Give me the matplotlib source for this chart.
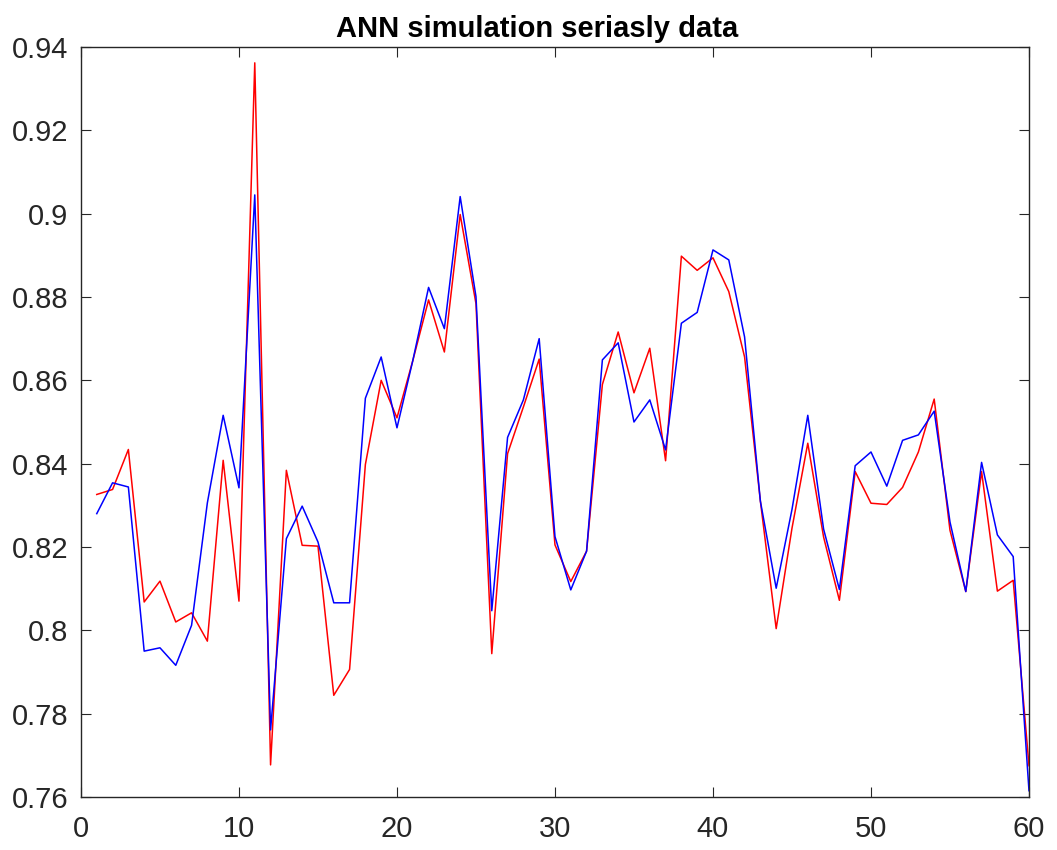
import matplotlib
matplotlib.use('Agg')
import matplotlib.pyplot as plt
from matplotlib.ticker import FuncFormatter
import numpy as np

plt.rcParams['font.family'] = ['Liberation Sans', 'DejaVu Sans']

# sample index 1..60
x = np.arange(1, 61)

# blue series (ANN output)
blue = [0.8280, 0.8354, 0.8344, 0.7950, 0.7958, 0.7916, 0.8012, 0.8306, 0.8516, 0.8342,
        0.9045, 0.7761, 0.8220, 0.8298, 0.8212, 0.8066, 0.8066, 0.8557, 0.8656, 0.8486,
        0.8647, 0.8823, 0.8724, 0.9041, 0.8801, 0.8047, 0.8463, 0.8553, 0.8700, 0.8225,
        0.8097, 0.8190, 0.8649, 0.8690, 0.8500, 0.8553, 0.8433, 0.8737, 0.8763, 0.8913,
        0.8889, 0.8704, 0.8310, 0.8101, 0.8290, 0.8516, 0.8243, 0.8098, 0.8395, 0.8428,
        0.8346, 0.8456, 0.8469, 0.8526, 0.8260, 0.8093, 0.8403, 0.8229, 0.8177, 0.7615]

# red series (target data)
red = [0.8326, 0.8338, 0.8434, 0.8068, 0.8118, 0.8020, 0.8042, 0.7974, 0.8408, 0.8070,
       0.9362, 0.7677, 0.8384, 0.8204, 0.8202, 0.7844, 0.7906, 0.8398, 0.8600, 0.8510,
       0.8647, 0.8793, 0.8668, 0.8998, 0.8784, 0.7944, 0.8424, 0.8536, 0.8651, 0.8205,
       0.8117, 0.8190, 0.8590, 0.8716, 0.8570, 0.8677, 0.8407, 0.8898, 0.8864, 0.8894,
       0.8813, 0.8656, 0.8310, 0.8004, 0.8245, 0.8449, 0.8224, 0.8072, 0.8381, 0.8305,
       0.8302, 0.8343, 0.8428, 0.8555, 0.8240, 0.8093, 0.8381, 0.8094, 0.8120, 0.7675]

xticks = [0, 10, 20, 30, 40, 50, 60]
yticks = [0.76, 0.78, 0.80, 0.82, 0.84, 0.86, 0.88, 0.90, 0.92, 0.94]

fig = plt.figure(figsize=(10.57, 8.5), dpi=100)
ax = fig.add_axes([0.0766, 0.0624, 0.8969, 0.8823])

ax.plot(x, red, color='#ff0000', linewidth=1.1)
ax.plot(x, blue, color='#0000ff', linewidth=1.1)

ax.set_xlim(0, 60)
ax.set_ylim(0.76, 0.94)
ax.set_xticks(xticks)
ax.set_yticks(yticks)
ax.yaxis.set_major_formatter(FuncFormatter(lambda v, p: '%g' % round(v, 2)))

charcoal = '#262626'
for s in ax.spines.values():
    s.set_color(charcoal)
    s.set_linewidth(1.0)
ax.tick_params(axis='both', direction='in', top=True, right=True,
               length=7, width=0.8, color=charcoal, labelcolor=charcoal,
               labelsize=21)
ax.tick_params(axis='x', pad=13)
ax.tick_params(axis='y', pad=9)

ax.set_title('ANN simulation seriasly data', fontsize=21, fontweight='bold',
             pad=7, x=0.481)

fig.savefig('out.png', dpi=100)
